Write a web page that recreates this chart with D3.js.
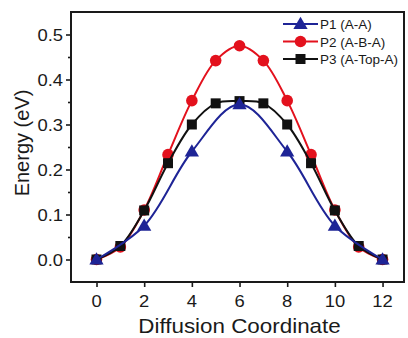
<!DOCTYPE html>
<html><head><meta charset="utf-8">
<script src="https://cdn.jsdelivr.net/npm/d3@7"></script>
<style>body{margin:0;background:#fff}svg{display:block;font-family:"Liberation Sans",Arial,sans-serif}</style>
</head><body><svg id="c" width="408" height="338"></svg>
<script>
const xP1 = [0, 2, 4, 6, 8, 10, 12];
const yP1 = [0, 0.075, 0.24, 0.345, 0.24, 0.075, 0];
const xP = [0, 1, 2, 3, 4, 5, 6, 7, 8, 9, 10, 11, 12];
const yP2 = [0, 0.028, 0.11, 0.233, 0.353, 0.442, 0.475, 0.442, 0.353, 0.233, 0.11, 0.028, 0];
const yP3 = [0, 0.03, 0.109, 0.214, 0.3, 0.347, 0.352, 0.347, 0.3, 0.214, 0.109, 0.03, 0];
const seriesNames = ["P1 (A-A)", "P2 (A-B-A)", "P3 (A-Top-A)"];
const xTicks = [0, 2, 4, 6, 8, 10, 12];
const yTicks = [0, 0.1, 0.2, 0.3, 0.4, 0.5];
const yMinor = [0.05, 0.15, 0.25, 0.35, 0.45];

const svg = d3.select("#c");
const L = 71, R = 404, T = 12, B = 282;
const x = d3.scaleLinear().domain([-1.07, 12.9]).range([L, R]);
const y = d3.scaleLinear().domain([-0.05, 0.55]).range([B, T]);

function txt(g, tx, ty, s, size, anchor, sx) {
  return g.append("text")
    .attr("transform", `translate(${tx},${ty}) scale(${sx},1)`)
    .attr("text-anchor", anchor).attr("font-size", size).attr("fill", "#1a1a1a").text(s);
}

// axes
const xAxis = svg.append("g").attr("transform", `translate(0,${B})`)
  .call(d3.axisBottom(x).tickValues(xTicks).tickSize(5).tickFormat(""));
const yAxis = svg.append("g").attr("transform", `translate(${L},0)`)
  .call(d3.axisLeft(y).tickValues(yTicks).tickSize(5).tickFormat(""));
const yAxisMinor = svg.append("g").attr("transform", `translate(${L},0)`)
  .call(d3.axisLeft(y).tickValues(yMinor).tickSize(3).tickFormat(""));
[xAxis, yAxis, yAxisMinor].forEach(a => {
  a.select(".domain").remove();
  a.selectAll(".tick line").attr("stroke", "#1a1a1a").attr("stroke-width", 1.6);
});
xTicks.forEach(v => txt(svg, x(v), B + 24.5, String(v), 16, "middle", 1.15));
yTicks.forEach(v => txt(svg, L - 8, y(v) + 6, d3.format(".1f")(v), 16, "end", 1.15));

svg.append("rect").attr("x", L).attr("y", T).attr("width", R - L).attr("height", B - T)
  .attr("fill", "none").attr("stroke", "#1a1a1a").attr("stroke-width", 2);

txt(svg, (L + R) / 2 + 2, 333, "Diffusion Coordinate", 20, "middle", 1.12);
svg.append("text").attr("transform", `translate(29,143) rotate(-90)`)
  .attr("text-anchor", "middle").attr("font-size", 20).attr("fill", "#1a1a1a").text("Energy (eV)");

const blue = "#1e2496", red = "#e3111d", black = "#111111";
const line = d3.line().x(d => x(d[0])).y(d => y(d[1])).curve(d3.curveCatmullRom.alpha(0.5));
const P1 = xP1.map((v, i) => [v, yP1[i]]);
const P2 = xP.map((v, i) => [v, yP2[i]]);
const P3 = xP.map((v, i) => [v, yP3[i]]);

const tri = d3.symbol().type(d3.symbolTriangle).size(88)();
const sq = d3.symbol().type(d3.symbolSquare).size(100)();

function drawSeries(data, color, kind) {
  svg.append("path").datum(data).attr("d", line).attr("fill", "none").attr("stroke", color).attr("stroke-width", 2);
  const g = svg.append("g");
  data.forEach(d => marker(g, x(d[0]), y(d[1]), color, kind));
}
function marker(g, cx, cy, color, kind) {
  if (kind === "c") g.append("circle").attr("cx", cx).attr("cy", cy).attr("r", 5.8).attr("fill", color);
  else if (kind === "s") g.append("path").attr("d", sq).attr("transform", `translate(${cx},${cy})`).attr("fill", color);
  else g.append("path").attr("d", tri).attr("transform", `translate(${cx},${cy + 1})`).attr("fill", color);
}
drawSeries(P2, red, "c");
drawSeries(P3, black, "s");
drawSeries(P1, blue, "t");

// legend
const legY = [24, 41.5, 59];
const legColors = [blue, red, black];
const legKinds = ["t", "c", "s"];
const lg = svg.append("g");
seriesNames.forEach((n, i) => {
  lg.append("line").attr("x1", 283).attr("x2", 318).attr("y1", legY[i]).attr("y2", legY[i])
    .attr("stroke", legColors[i]).attr("stroke-width", 2);
  marker(lg, 300.5, legY[i], legColors[i], legKinds[i]);
  txt(lg, 320, legY[i] + 5, n, 13.5, "start", 1.0);
});
</script></body></html>
